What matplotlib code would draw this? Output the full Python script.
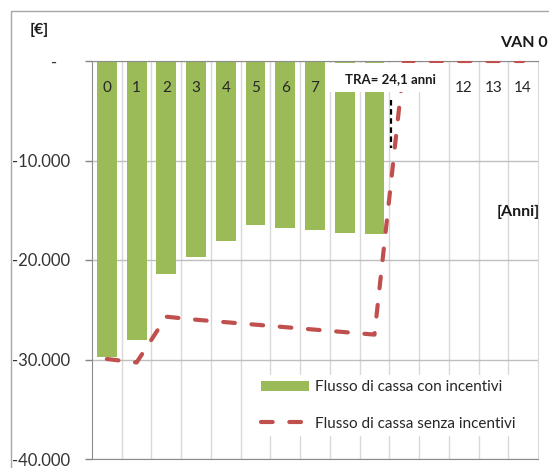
import numpy as np
import matplotlib
matplotlib.use("Agg")
import matplotlib.pyplot as plt
from matplotlib.patches import Rectangle
from matplotlib.lines import Line2D

plt.rcParams['font.family'] = ['Lato', 'DejaVu Sans']

# ---- data ----
years = list(range(15))
year_labels = [str(y) for y in years]
hidden_years = [8, 9, 10, 11]          # covered by the TRA label box
bar_years = list(range(10))
flow_with_incentives = [-29750, -28000, -21400, -19700, -18100, -16450, -16750, -17000, -17300, -17400]
flow_without_incentives = [-29950, -30300, -25700, -26000, -26250, -26500, -26750, -27000, -27250, -27500,
                           0, 0, 0, 0, 0]
y_ticks = [0, -10000, -20000, -30000, -40000]
y_tick_labels = ['-   ', '-10.000', '-20.000', '-30.000', '-40.000']
tra_text = 'TRA= 24,1 anni'
tra_x = 9.55
tra_y = [-3900, -8700]
legend_labels = ['Flusso di cassa con incentivi', 'Flusso di cassa senza incentivi']

GREEN = '#9bbb59'
RED = '#c0504d'
W, H = 549, 468

fig = plt.figure(figsize=(W / 100, H / 100), dpi=100)
ax = fig.add_axes([92 / W, 1 - 459 / H, (538 - 92) / W, (459 - 61) / H])
ax.set_xlim(-0.5, 14.5)
ax.set_ylim(-40000, 0)

# gridlines
ax.set_axisbelow(True)
ax.set_xticks([])
ax.set_xticks(np.arange(0.5, 14, 1), minor=True)
ax.tick_params(axis='x', which='both', length=0, labelbottom=False)
ax.grid(which='minor', axis='x', color='#d9d9d9', lw=1)
ax.set_yticks(y_ticks, labels=y_tick_labels)
ax.grid(which='major', axis='y', color='#bfbfbf', lw=1)
ax.tick_params(axis='y', direction='out', length=5, width=1, color='#868686',
               labelsize=12, labelcolor='#333333', pad=11)

for s in ['left', 'top', 'bottom']:
    ax.spines[s].set_color('#8c8c8c')
ax.spines['right'].set_color('#d9d9d9')

bars = ax.bar(bar_years, flow_with_incentives, width=0.67, color=GREEN, zorder=2,
              label=legend_labels[0])
line, = ax.plot(years, flow_without_incentives, color=RED, lw=3.0, dashes=(2.8, 4.0),
                dash_capstyle='round', zorder=3, label=legend_labels[1])

for y, lbl in zip(years, year_labels):
    if y in hidden_years:
        continue
    ax.annotate(lbl, xy=(y, 0), xytext=(0, -22.3), textcoords='offset points',
                ha='center', va='baseline', fontsize=11, color='#262626', zorder=4)

ax.plot([tra_x, tra_x], tra_y, color='black', lw=1.6, dashes=(2.5, 1.6), zorder=4)

# annotation box
ax.add_patch(Rectangle((7.40, -3100), 11.37 - 7.40, 3100 - 200, facecolor='white',
                       edgecolor='none', zorder=5))
ax.text(tra_x, -1809, tra_text, ha='center', va='center', fontsize=9.5,
        fontweight='bold', color='#1a1a1a', zorder=6)

leg = ax.legend(handles=[bars, line], labels=legend_labels, loc='upper left',
                bbox_to_anchor=(256 / W, 1 - 375 / H), bbox_transform=fig.transFigure,
                frameon=True, fancybox=False, edgecolor='none', facecolor='white',
                framealpha=1, fontsize=11, handlelength=3.14, handletextpad=0.4,
                labelspacing=1.45, borderaxespad=0, borderpad=0.35)
for t in leg.get_texts():
    t.set_color('#262626')

# outer frame
fig.add_artist(Line2D([10.5 / W, 10.5 / W, 1], [0, 1 - 10.5 / H, 1 - 10.5 / H],
                      transform=fig.transFigure, color='#a6a6a6', lw=1))

fig.text(30 / W, 1 - 30 / H, '[€]', fontsize=11.5, fontweight='bold', va='center', ha='left',
         color='#1a1a1a')
fig.text(500 / W, 1 - 43 / H, 'VAN 0', fontsize=11.5, fontweight='bold', va='center',
         ha='left', color='#1a1a1a')
fig.text(497 / W, 1 - 212 / H, '[Anni]', fontsize=11.5, fontweight='bold', va='center',
         ha='left', color='#1a1a1a')

fig.savefig('out.png', dpi=100)
